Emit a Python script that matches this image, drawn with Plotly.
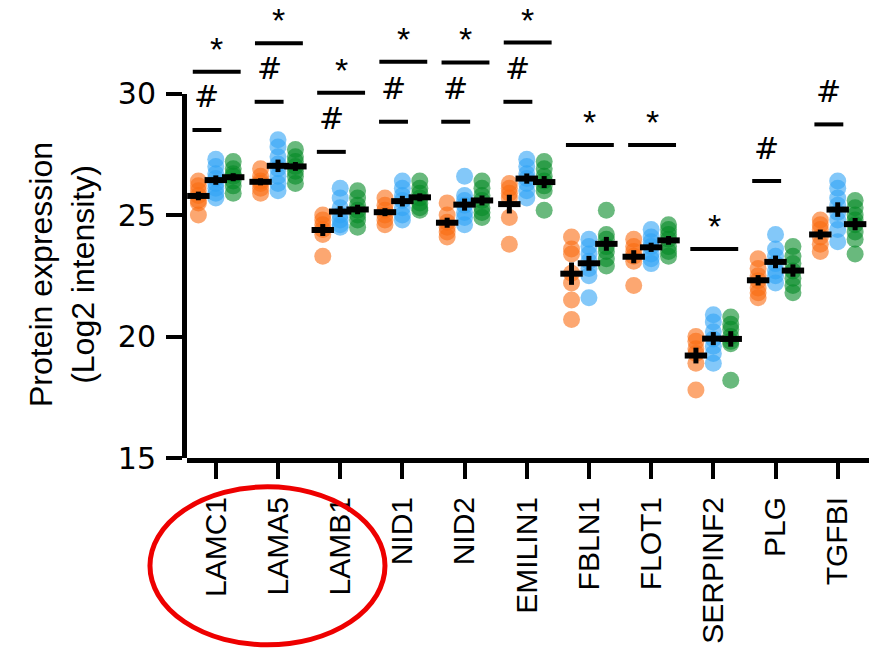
import numpy as np
import plotly.graph_objects as go

genes = ["LAMC1", "LAMA5", "LAMB1", "NID1", "NID2", "EMILIN1",
         "FBLN1", "FLOT1", "SERPINF2", "PLG", "TGFBI"]

orange_vals = [
    [26.4, 26.2, 26.0, 25.8, 25.6, 25.5, 25.0],
    [26.9, 26.6, 26.4, 26.3, 26.1, 25.9],
    [25.0, 24.8, 24.6, 24.4, 24.2, 23.3],
    [25.7, 25.4, 25.2, 25.0, 24.8, 24.6],
    [25.5, 25.0, 24.7, 24.5, 24.3, 24.1],
    [26.3, 26.1, 25.9, 25.7, 24.9, 23.8],
    [24.1, 23.6, 23.4, 22.6, 22.2, 21.5, 20.7],
    [24.0, 23.7, 23.5, 23.3, 23.1, 22.1],
    [20.0, 19.8, 19.5, 19.3, 18.9, 17.8],
    [23.2, 22.8, 22.5, 22.3, 22.0, 21.8, 21.6],
    [24.8, 24.6, 24.4, 24.1, 23.8, 23.5],
]
blue_vals = [
    [27.3, 27.0, 26.7, 26.5, 26.3, 26.1, 25.9, 25.7],
    [28.1, 27.8, 27.4, 27.1, 26.9, 26.6, 26.3, 26.0],
    [26.1, 25.7, 25.3, 25.0, 24.8, 24.6, 24.5],
    [26.4, 26.1, 25.8, 25.6, 25.3, 25.0, 24.8],
    [26.6, 25.8, 25.6, 25.4, 25.1, 24.9, 24.6],
    [27.3, 27.0, 26.7, 26.5, 26.3, 26.0, 25.7],
    [24.0, 23.7, 23.4, 23.1, 22.8, 22.5, 21.6],
    [24.4, 24.1, 23.9, 23.7, 23.4, 23.2, 23.0],
    [20.9, 20.6, 20.2, 19.9, 19.6, 19.3, 18.9],
    [24.2, 23.6, 23.3, 23.0, 22.7, 22.5, 22.2],
    [26.4, 26.1, 25.7, 25.4, 25.1, 24.8, 24.4, 23.9],
]
green_vals = [
    [27.2, 26.9, 26.7, 26.6, 26.4, 26.2, 25.9],
    [27.7, 27.4, 27.2, 27.0, 26.8, 26.6, 26.3],
    [26.0, 25.7, 25.4, 25.2, 25.0, 24.8, 24.5],
    [26.4, 26.1, 25.9, 25.7, 25.5, 25.3, 25.2],
    [26.4, 26.1, 25.8, 25.6, 25.3, 25.1, 24.9],
    [27.2, 26.9, 26.6, 26.4, 26.2, 26.0, 25.2],
    [25.2, 24.2, 24.0, 23.7, 23.5, 23.2, 22.9],
    [24.6, 24.4, 24.2, 24.0, 23.7, 23.5, 23.3],
    [20.8, 20.5, 20.3, 20.0, 19.8, 19.7, 18.2],
    [23.7, 23.3, 23.0, 22.7, 22.4, 22.1, 21.8],
    [25.6, 25.3, 25.0, 24.8, 24.6, 24.3, 24.0, 23.4],
]

# significance bar levels (y, log2 intensity units); None = no bar
hash_levels = [28.5, 29.66, 27.6, 28.84, 28.84, 29.66, None, None, None, 26.4, 28.73]
star_levels = [30.9, 32.07, 30.03, 31.31, 31.28, 32.1, 27.88, 27.88, 23.6, None, None]

y_ticks = [15, 20, 25, 30]

groups = [
    (orange_vals, -0.28, "rgb(250,108,18)"),
    (blue_vals, 0.0, "rgb(48,163,245)"),
    (green_vals, 0.28, "rgb(5,138,38)"),
]

FONT = "Liberation Sans, Arial, Helvetica, sans-serif"
WIDE = "DejaVu Sans, Liberation Sans, Arial, sans-serif"
YMIN, YMAX = 15, 33.85

fig = go.Figure()

for vals, off, col in groups:
    xs, ys = [], []
    for i, v in enumerate(vals):
        xs += [i + off] * len(v)
        ys += v
    fig.add_trace(go.Scatter(
        x=xs, y=ys, mode="markers",
        marker=dict(size=17, color=col, opacity=0.6, line=dict(width=0)),
        showlegend=False, hoverinfo="skip"))

for vals, off, col in groups:
    means = [float(np.mean(v)) for v in vals]
    sems = [float(np.std(v, ddof=1) / np.sqrt(len(v))) for v in vals]
    fig.add_trace(go.Scatter(
        x=[i + off for i in range(len(vals))], y=means, mode="markers",
        marker=dict(symbol="line-ew", size=16, color="black",
                    line=dict(width=6, color="black")),
        error_y=dict(type="data", array=sems, thickness=5, width=0, color="black"),
        showlegend=False, hoverinfo="skip"))

# dummy trace to show the left axis (15-30 only)
fig.add_trace(go.Scatter(x=[None], y=[None], xaxis="x", yaxis="y2",
                         showlegend=False, hoverinfo="skip"))

shapes = []
annotations = []
for i in range(len(genes)):
    h = hash_levels[i]
    if h is not None:
        x0, x1 = i - 0.375, i + 0.09
        shapes.append(dict(type="line", xref="x", yref="y", x0=x0, x1=x1, y0=h, y1=h,
                           line=dict(color="black", width=4)))
        annotations.append(dict(x=(x0 + x1) / 2, y=h, xref="x", yref="y", text="#",
                                showarrow=False, yanchor="middle", yshift=33,
                                font=dict(size=30, color="black", family=WIDE)))
    s = star_levels[i]
    if s is not None:
        x0, x1 = i - 0.37, i + 0.40
        shapes.append(dict(type="line", xref="x", yref="y", x0=x0, x1=x1, y0=s, y1=s,
                           line=dict(color="black", width=4)))
        annotations.append(dict(x=(x0 + x1) / 2, y=s, xref="x", yref="y", text="*",
                                showarrow=False, yanchor="middle", yshift=23,
                                font=dict(size=34, color="black", family=FONT)))

# red ellipse around the laminin labels
shapes.append(dict(type="circle", xref="paper", yref="paper",
                   x0=-0.0543, x1=0.2903, y0=-0.408, y1=-0.063,
                   line=dict(color="rgb(238,0,0)", width=5)))

# y-axis title
annotations.append(dict(x=-0.183, y=0.40, xref="paper", yref="paper",
                        xanchor="center", yanchor="middle",
                        text="Protein expression<br>(Log2 intensity)",
                        textangle=-90, showarrow=False,
                        font=dict(size=32, color="black", family=FONT)))

fig.update_layout(
    template="none",
    width=869, height=649,
    margin=dict(l=187, r=0, t=0, b=191, pad=0, autoexpand=False),
    paper_bgcolor="white", plot_bgcolor="rgba(0,0,0,0)",
    shapes=shapes, annotations=annotations,
    xaxis=dict(range=[-0.463, 10.503], tickmode="array",
               tickvals=list(range(len(genes))), ticktext=genes,
               tickangle=-90, ticks="outside", ticklen=16, tickwidth=4,
               tickcolor="black", showline=True, linewidth=5, linecolor="black",
               showgrid=False, zeroline=False, anchor="y", automargin=False,
               ticklabelstandoff=6,
               tickfont=dict(size=30, color="black", family=FONT)),
    yaxis=dict(range=[YMIN, YMAX], domain=[0, 1], visible=False,
               showgrid=False, zeroline=False, automargin=False),
    yaxis2=dict(range=[15, 30], domain=[0, (30 - YMIN) / (YMAX - YMIN)],
                anchor="x", tickmode="array", tickvals=y_ticks,
                ticks="outside", ticklen=16, tickwidth=4, tickcolor="black",
                showline=True, linewidth=5, linecolor="black",
                showgrid=False, zeroline=False, automargin=False,
                ticklabelstandoff=4,
                tickfont=dict(size=30, color="black", family=WIDE)),
)

fig.write_html("out.html")
